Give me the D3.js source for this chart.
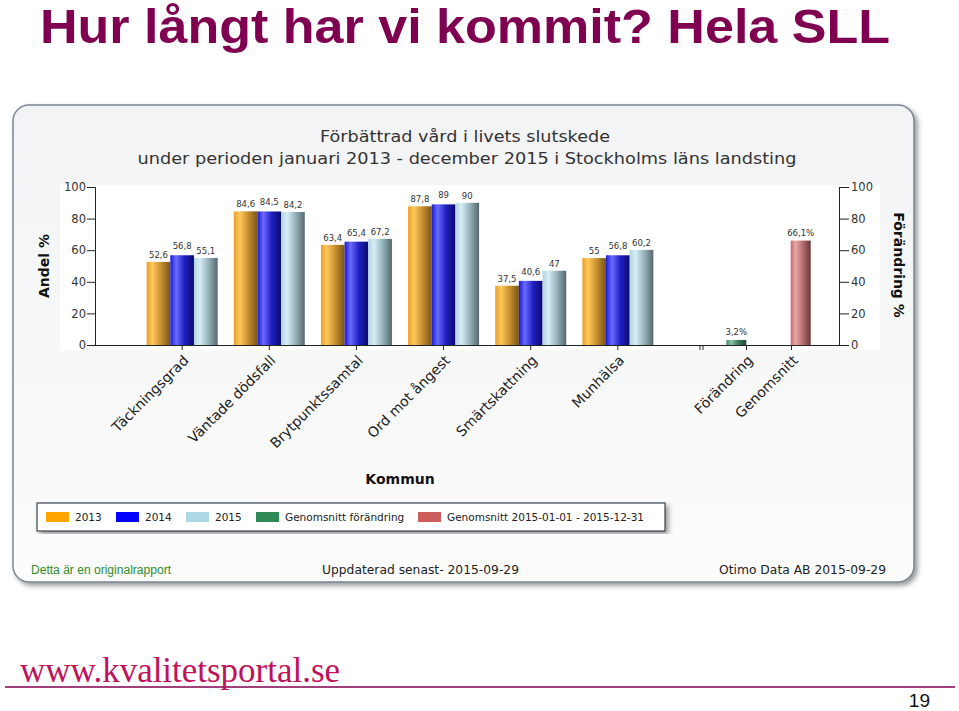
<!DOCTYPE html>
<html><head><meta charset="utf-8">
<script src="https://cdn.jsdelivr.net/npm/d3@7"></script>
<style>body{margin:0;background:#fff}svg{display:block}</style>
</head><body>
<script>
const categories = ["Täckningsgrad","Väntade dödsfall","Brytpunktssamtal","Ord mot ångest","Smärtskattning","Munhälsa"];
const v2013 = [52.6,84.6,63.4,87.8,37.5,55];
const v2014 = [56.8,84.5,65.4,89,40.6,56.8];
const v2015 = [55.1,84.2,67.2,90,47,60.2];
const seriesNames = ["2013","2014","2015"];
const summaryCats = ["Förändring","Genomsnitt"];
const summaryValues = [3.2,66.1];
const yTicks = [0,20,40,60,80,100];
const legendLabels = ["2013","2014","2015","Genomsnitt förändring","Genomsnitt 2015-01-01 - 2015-12-31"];

const W=959,H=711;
const svg=d3.select("body").append("svg").attr("width",W).attr("height",H);
const defs=svg.append("defs");
const FONT="'DejaVu Sans', Verdana, sans-serif";

function hgrad(id,stops){
  const g=defs.append("linearGradient").attr("id",id).attr("x1","0%").attr("x2","100%").attr("y1","0").attr("y2","0");
  stops.forEach(s=>g.append("stop").attr("offset",s[0]).attr("stop-color",s[1]));
}
hgrad("g2013",[["0%","#e8a028"],["25%","#ffc85a"],["60%","#c89030"],["100%","#7a5418"]]);
hgrad("g2014",[["0%","#1a1ad8"],["25%","#6a6aff"],["60%","#2020c0"],["100%","#0a0a70"]]);
hgrad("g2015",[["0%","#b0d4e0"],["25%","#d6eef6"],["60%","#98b4bc"],["100%","#56686e"]]);
hgrad("gChg",[["0%","#4a8a68"],["25%","#8cc8a8"],["60%","#3e7a5a"],["100%","#224a36"]]);
hgrad("gAvg",[["0%","#c86a6a"],["25%","#eaa8a8"],["60%","#b47070"],["100%","#6a3636"]]);
const vg=defs.append("linearGradient").attr("id","panelBg").attr("x1","0").attr("x2","0").attr("y1","0%").attr("y2","100%");
vg.append("stop").attr("offset","0%").attr("stop-color","#f2f3f4");
vg.append("stop").attr("offset","100%").attr("stop-color","#fcfcfc");
const f=defs.append("filter").attr("id","shadow").attr("x","-5%").attr("y","-5%").attr("width","115%").attr("height","115%");
f.append("feDropShadow").attr("dx",3).attr("dy",3).attr("stdDeviation",2.5).attr("flood-color","#555").attr("flood-opacity",0.6);

// Slide title
svg.append("text").attr("x",40).attr("y",43).text("Hur långt har vi kommit? Hela SLL")
  .attr("font-family","'Liberation Sans', Arial, sans-serif").attr("font-weight","bold")
  .attr("font-size",48).attr("fill","#7f0050").attr("textLength",850).attr("lengthAdjust","spacingAndGlyphs");

// Panel
svg.append("rect").attr("x",13).attr("y",105).attr("width",901).attr("height",477).attr("rx",16)
  .attr("fill","url(#panelBg)").attr("stroke","#7b8794").attr("stroke-width",1.5).attr("filter","url(#shadow)");
svg.append("rect").attr("x",60).attr("y",185).attr("width",820).attr("height",165).attr("fill","#ffffff");

// Chart title
svg.append("text").attr("x",465).attr("y",142).attr("text-anchor","middle").text("Förbättrad vård i livets slutskede")
  .attr("font-family",FONT).attr("font-size",16).attr("fill","#333").attr("textLength",290).attr("lengthAdjust","spacingAndGlyphs");
svg.append("text").attr("x",467).attr("y",164).attr("text-anchor","middle").text("under perioden januari 2013 - december 2015 i Stockholms läns landsting")
  .attr("font-family",FONT).attr("font-size",16).attr("fill","#333").attr("textLength",659).attr("lengthAdjust","spacingAndGlyphs");

// Scales
const y=d3.scaleLinear().domain([0,100]).range([345,187]);
const x=d3.scaleBand().domain(categories).range([95,705]).paddingOuter(0.5).paddingInner(0);
const xs=d3.scaleBand().domain(seriesNames).range([-35.5,35.5]);
const x2=d3.scaleBand().domain(summaryCats).range([703,834]).padding(0.035);
const x2ticks=d3.scalePoint().domain(summaryCats).range([746,791]);

const fmt=v=>String(v).replace(".",",");
const series=[v2013,v2014,v2015];
const gradIds=["g2013","g2014","g2015"];

// Bars
const gBars=svg.append("g");
series.forEach((vals,si)=>{
  gBars.selectAll(null).data(categories).join("rect")
    .attr("x",d=>x(d)+x.bandwidth()/2+xs(seriesNames[si]))
    .attr("width",xs.bandwidth())
    .attr("y",(d,i)=>y(vals[i]))
    .attr("height",(d,i)=>y(0)-y(vals[i]))
    .attr("fill",`url(#${gradIds[si]})`);
  gBars.selectAll(null).data(categories).join("text")
    .attr("x",d=>x(d)+x.bandwidth()/2+xs(seriesNames[si])+xs.bandwidth()/2)
    .attr("y",(d,i)=>y(vals[i])-4-(si===1?2:0))
    .attr("text-anchor","middle").attr("font-family",FONT).attr("font-size",8.5).attr("fill","#333")
    .text((d,i)=>fmt(vals[i]));
});
const sumGrad=["gChg","gAvg"];
svg.append("g").selectAll("rect").data(summaryCats).join("rect")
  .attr("x",d=>x2(d)+x2.bandwidth()/2-10).attr("width",20)
  .attr("y",(d,i)=>y(summaryValues[i])).attr("height",(d,i)=>y(0)-y(summaryValues[i]))
  .attr("fill",(d,i)=>`url(#${sumGrad[i]})`);
svg.append("g").selectAll("text").data(summaryCats).join("text")
  .attr("x",d=>x2(d)+x2.bandwidth()/2).attr("y",(d,i)=>y(summaryValues[i])-5)
  .attr("text-anchor","middle").attr("font-family",FONT).attr("font-size",8.5).attr("fill","#333")
  .text((d,i)=>fmt(summaryValues[i])+"%");

// Axes
const axL=svg.append("g").attr("transform","translate(95,0)").call(d3.axisLeft(y).tickValues(yTicks).tickSize(6).tickPadding(3));
const axR=svg.append("g").attr("transform","translate(839,0)").call(d3.axisRight(y).tickValues(yTicks).tickSize(6).tickPadding(3));
[axL,axR].forEach(a=>{a.select(".domain").attr("stroke","#222");a.selectAll(".tick line").attr("stroke","#222");
  a.selectAll("text").attr("font-family",FONT).attr("font-size",11.5).attr("fill","#333");});
axR.selectAll(".tick line").attr("x2",10);
axR.selectAll(".tick text").attr("x",12);
axL.selectAll(".tick line").attr("x2",-8);

svg.append("line").attr("x1",95).attr("x2",839).attr("y1",345.5).attr("y2",345.5).attr("stroke","#222");
const axB=svg.append("g").attr("transform","translate(0,345)").call(d3.axisBottom(x).tickSize(5).tickSizeOuter(0).tickPadding(6));
const axB2=svg.append("g").attr("transform","translate(0,345)").call(d3.axisBottom(x2ticks).tickSize(5).tickSizeOuter(0).tickPadding(6));
svg.append("line").attr("x1",703).attr("x2",703).attr("y1",345).attr("y2",350).attr("stroke","#222");
svg.append("line").attr("x1",700).attr("x2",700).attr("y1",345).attr("y2",350).attr("stroke","#222");
[axB,axB2].forEach(a=>{a.select(".domain").remove();a.selectAll(".tick line").attr("stroke","#222");
  a.selectAll("text").attr("font-family",FONT).attr("font-size",14).attr("fill","#222")
   .attr("text-anchor","end").attr("dy","0.35em").attr("transform","translate(1,10) rotate(-45)").attr("x",0).attr("y",4);});

// Axis titles
svg.append("text").attr("transform","translate(49,266) rotate(-90)").attr("text-anchor","middle")
  .attr("font-family",FONT).attr("font-weight","bold").attr("font-size",14).attr("fill","#111").text("Andel %");
svg.append("text").attr("transform","translate(894,265) rotate(90)").attr("text-anchor","middle")
  .attr("font-family",FONT).attr("font-weight","bold").attr("font-size",14).attr("fill","#111").text("Förändring %");
svg.append("text").attr("x",400).attr("y",484).attr("text-anchor","middle")
  .attr("font-family",FONT).attr("font-weight","bold").attr("font-size",14).attr("fill","#111").text("Kommun");

// Legend
svg.append("rect").attr("x",37).attr("y",503).attr("width",628).attr("height",28).attr("fill","#fff")
  .attr("stroke","#3a4450").attr("stroke-width",1.2).attr("filter","url(#shadow)");
const legColors=["#ffa500","#0000ff","#add8e6","#2e8b57","#cd5c5c"];
const legX=[46,116,186,256,418];
const lg=svg.append("g");
lg.selectAll("rect").data(legendLabels).join("rect").attr("x",(d,i)=>legX[i]).attr("y",512).attr("width",23).attr("height",10).attr("fill",(d,i)=>legColors[i]);
lg.selectAll("text").data(legendLabels).join("text").attr("x",(d,i)=>legX[i]+29).attr("y",521)
  .attr("font-family",FONT).attr("font-size",10.5).attr("fill","#222").text(d=>d);

// Footer
svg.append("text").attr("x",31).attr("y",574).attr("font-family","'Liberation Sans Narrow','Liberation Sans',Arial,sans-serif")
  .attr("font-size",12.5).attr("fill","#2e8b2e").text("Detta är en originalrapport").attr("textLength",140).attr("lengthAdjust","spacingAndGlyphs");
svg.append("text").attr("x",322).attr("y",574).attr("font-family",FONT).attr("font-size",12).attr("fill","#222")
  .text("Uppdaterad senast- 2015-09-29").attr("textLength",197).attr("lengthAdjust","spacingAndGlyphs");
svg.append("text").attr("x",886).attr("y",574).attr("text-anchor","end").attr("font-family",FONT).attr("font-size",12).attr("fill","#222")
  .text("Otimo Data AB 2015-09-29").attr("textLength",167).attr("lengthAdjust","spacingAndGlyphs");

// Slide footer
svg.append("line").attr("x1",5).attr("x2",955).attr("y1",687).attr("y2",687).attr("stroke","#7f0050").attr("stroke-width",1.5);
svg.append("text").attr("x",20).attr("y",682).attr("font-family","'Liberation Serif','Times New Roman',serif")
  .attr("font-size",36).attr("fill","#c0125a").text("www.kvalitetsportal.se").attr("textLength",320).attr("lengthAdjust","spacingAndGlyphs");
svg.append("text").attr("x",930).attr("y",707).attr("text-anchor","end").attr("font-family","'Liberation Sans',Arial,sans-serif")
  .attr("font-size",19).attr("fill","#111").text("19");
</script>
</body></html>
